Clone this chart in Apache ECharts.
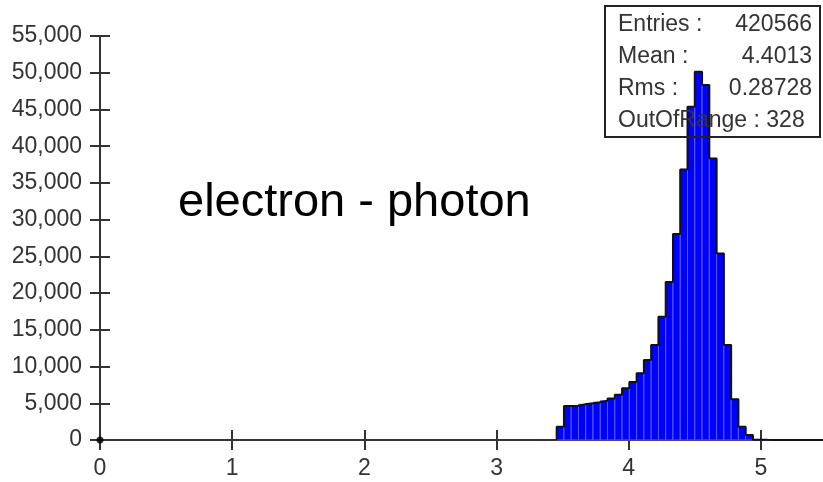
<!DOCTYPE html>
<html>
<head>
<meta charset="utf-8">
<script src="https://cdn.jsdelivr.net/npm/echarts@6/dist/echarts.min.js"></script>
<style>
html,body{margin:0;padding:0;background:#fff;}
#chart{width:823px;height:482px;}
</style>
</head>
<body>
<div id="chart"></div>
<script>
// ---- data ----
var binStart = 3.455;
var binWidth = 0.055;
var counts = [1810, 4627, 4650, 4855, 4990, 5130, 5350, 5650, 6150, 7030,
              7900, 9100, 10890, 12930, 16780, 21500, 28040, 36840, 45360, 50130,
              48320, 38340, 25400, 12930, 5540, 1810, 680];
var tailCounts = [40, 25, 15, 10, 8, 6, 5, 4, 3, 3, 2, 2];
var xTicks = [0, 1, 2, 3, 4, 5];
var xMax = 5.47;
var yTicks = [0, 5000, 10000, 15000, 20000, 25000, 30000, 35000, 40000, 45000, 50000, 55000];
var originPoint = [[0, 0]];
var titleText = 'electron - photon';
var statLabels = ['Entries :', 'Mean :', 'Rms :'];
var statValues = ['420566', '4.4013', '0.28728'];
var outOfRangeText = 'OutOfRange : 328';

// ---- build bins ----
var allCounts = counts.concat(tailCounts);
var bins = allCounts.map(function (c, i) {
  var lo = +(binStart + i * binWidth).toFixed(4);
  var hi = +(binStart + (i + 1) * binWidth).toFixed(4);
  return [lo, hi, c];
});
var outline = [[bins[0][0], 0]];
bins.forEach(function (b) { outline.push([b[0], b[2]]); });
outline.push([bins[bins.length - 1][1], 0]);

var FONT = 'Liberation Sans, Arial, sans-serif';
var axisColor = '#333';

var chart = echarts.init(document.getElementById('chart'), null, {renderer: 'canvas'});

var statGraphics = [];
statGraphics.push({
  type: 'rect', z: 100,
  shape: {x: 605, y: 6, width: 215, height: 131},
  style: {fill: 'none', stroke: '#222', lineWidth: 2}
});
var rowY = [25, 57, 89, 121];
statLabels.forEach(function (t, i) {
  statGraphics.push({type: 'text', z: 101, x: 618, y: rowY[i],
    style: {text: t, fill: '#333', font: '23px ' + FONT, textAlign: 'left', textVerticalAlign: 'middle'}});
  statGraphics.push({type: 'text', z: 101, x: 812, y: rowY[i],
    style: {text: statValues[i], fill: '#333', font: '23px ' + FONT, textAlign: 'right', textVerticalAlign: 'middle'}});
});
statGraphics.push({type: 'text', z: 101, x: 618, y: rowY[3],
  style: {text: outOfRangeText, fill: '#333', font: '23px ' + FONT, textAlign: 'left', textVerticalAlign: 'middle'}});
statGraphics.push({type: 'text', z: 101, x: 178, y: 203,
  style: {text: titleText, fill: '#000', font: '47px ' + FONT, textAlign: 'left', textVerticalAlign: 'middle'}});

var commonX = {type: 'value', min: 0, max: xMax, interval: 1, position: 'bottom'};
var commonY = {type: 'value', min: yTicks[0], max: yTicks[yTicks.length - 1],
               interval: yTicks[1] - yTicks[0], position: 'left'};

var option = {
  animation: false,
  backgroundColor: '#fff',
  grid: {left: 100, right: 0, top: 36, bottom: 42, containLabel: false},
  xAxis: [
    Object.assign({}, commonX, {
      axisLine: {show: true, onZero: false, lineStyle: {color: axisColor, width: 2}},
      axisTick: {show: true, length: 10, customValues: xTicks, lineStyle: {color: axisColor, width: 2}},
      axisLabel: {show: true, margin: 17, color: '#333', fontSize: 23, fontFamily: FONT,
        customValues: xTicks,
        formatter: function (v) { return xTicks.indexOf(v) >= 0 ? String(v) : ''; }},
      splitLine: {show: false}
    }),
    Object.assign({}, commonX, {
      axisLine: {show: false, onZero: false},
      axisTick: {show: true, inside: true, length: 10, customValues: xTicks, lineStyle: {color: axisColor, width: 2}},
      axisLabel: {show: false},
      splitLine: {show: false}
    })
  ],
  yAxis: [
    Object.assign({}, commonY, {
      axisLine: {show: true, onZero: false, lineStyle: {color: axisColor, width: 2}},
      axisTick: {show: true, length: 10, lineStyle: {color: axisColor, width: 2}},
      axisLabel: {show: true, margin: 18, color: '#333', fontSize: 23, fontFamily: FONT,
        formatter: function (v) { return v.toLocaleString('en-US'); }},
      splitLine: {show: false}
    }),
    Object.assign({}, commonY, {
      axisLine: {show: false, onZero: false},
      axisTick: {show: true, inside: true, length: 10, lineStyle: {color: axisColor, width: 2}},
      axisLabel: {show: false},
      splitLine: {show: false}
    })
  ],
  series: [
    {
      type: 'custom',
      z: 2,
      xAxisIndex: 0, yAxisIndex: 0,
      data: bins,
      encode: {x: [0, 1], y: 2},
      renderItem: function (params, api) {
        var p0 = api.coord([api.value(0), api.value(2)]);
        var p1 = api.coord([api.value(1), 0]);
        return {
          type: 'rect',
          shape: {x: p0[0], y: p0[1], width: p1[0] - p0[0], height: p1[1] - p0[1]},
          style: {fill: '#0000ff', stroke: '#5a5aff', lineWidth: 1}
        };
      }
    },
    {
      type: 'line',
      z: 3,
      xAxisIndex: 0, yAxisIndex: 0,
      data: outline,
      step: 'end',
      showSymbol: false,
      symbol: 'none',
      lineStyle: {color: '#111', width: 2},
      silent: true
    },
    {
      type: 'scatter',
      z: 5,
      xAxisIndex: 0, yAxisIndex: 0,
      data: originPoint,
      symbolSize: 7,
      itemStyle: {color: '#000'},
      clip: false
    }
  ],
  graphic: statGraphics
};
chart.setOption(option);
</script>
</body>
</html>
